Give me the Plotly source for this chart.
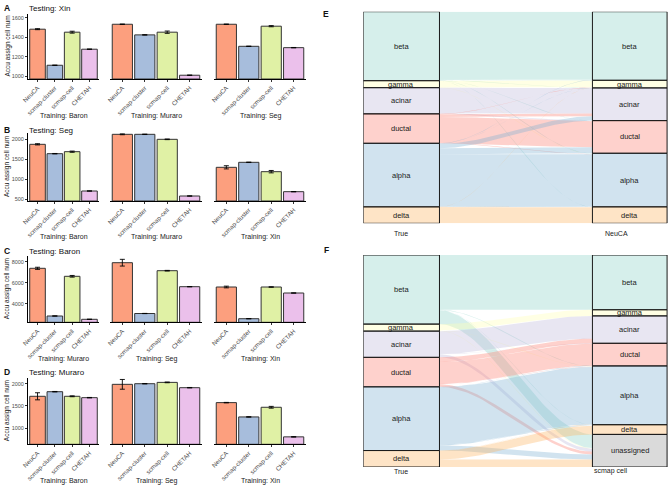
import numpy as np
import plotly.graph_objects as go

W, H = 668, 488
FONT = "Liberation Sans"

# ---------------- data ----------------
methods = ["NeuCA", "scmap-cluster", "scmap-cell", "CHETAH"]
bar_colors = ["#FC9F7E", "#A7BDDC", "#E0F1A5", "#EBC0EB"]

testing = ["Xin", "Seg", "Baron", "Muraro"]
training = [["Baron", "Muraro", "Seg"],
            ["Baron", "Muraro", "Xin"],
            ["Muraro", "Seg", "Xin"],
            ["Baron", "Seg", "Xin"]]

values_A = [[1484, 1111, 1453, 1277], [1535, 1425, 1453, 1008], [1535, 1307, 1515, 1293]]
errors_A = [[5, 2, 10, 2], [2, 2, 12, 2], [2, 2, 6, 2]]
values_B = [[1867, 1633, 1683, 700], [2117, 2117, 1992, 575], [1292, 1417, 1183, 683]]
errors_B = [[15, 5, 15, 3], [10, 5, 8, 3], [40, 5, 30, 3]]
values_C = [[7371, 2829, 6610, 2514], [7905, 3067, 7143, 5620], [5590, 2571, 5590, 5019]]
errors_C = [[100, 10, 80, 10], [320, 10, 30, 10], [80, 10, 20, 10]]
values_D = [[1716, 1820, 1716, 1685], [1986, 2000, 2030, 1910], [1573, 1250, 1468, 800]]
errors_D = [[80, 5, 10, 5], [110, 5, 8, 5], [5, 5, 20, 5]]

row_values = [values_A, values_B, values_C, values_D]
row_errors = [errors_A, errors_B, errors_C, errors_D]
row_yrange = [[969, 1641], [450, 2150], [2229, 8543], [632, 2129]]
row_dtick = [200, 500, 2000, 500]

cell_types = ["beta", "gamma", "acinar", "ductal", "alpha", "delta"]
neuca_types = ["beta", "gamma", "acinar", "ductal", "alpha", "delta"]
scmap_types = ["beta", "gamma", "acinar", "ductal", "alpha", "delta", "unassigned"]
type_colors = {"beta": "#8DD3C7", "gamma": "#FFFFB3", "acinar": "#BEBADA",
               "ductal": "#FB8072", "alpha": "#80B1D3", "delta": "#FDB462",
               "unassigned": "#999999"}

# rows: True type, cols: predicted type
flows_E = [[2490, 10, 5, 5, 10, 5],
           [5, 240, 0, 0, 10, 0],
           [0, 8, 930, 20, 0, 0],
           [0, 12, 100, 950, 15, 0],
           [15, 5, 160, 220, 1920, 6],
           [0, 5, 0, 0, 6, 590]]
flows_F = [[2000, 0, 0, 0, 15, 10, 500],
           [0, 225, 0, 0, 10, 0, 20],
           [0, 0, 830, 15, 0, 0, 113],
           [0, 0, 170, 800, 10, 0, 97],
           [0, 0, 0, 12, 2100, 24, 190],
           [0, 0, 0, 0, 11, 320, 270]]

# ---------------- layout helpers ----------------
def fx(px):
    return px / W

def fy(py):
    return 1 - py / H

def rgba(hexc, a):
    hexc = hexc.lstrip("#")
    r, g, b = int(hexc[0:2], 16), int(hexc[2:4], 16), int(hexc[4:6], 16)
    return f"rgba({r},{g},{b},{a})"

TXT = "#1a1a1a"
row_px = [(14, 79), (133, 201), (256, 322.3), (378, 444.3)]
col_px = [(28, 99), (110, 202), (214, 306)]
title_py = [8, 130, 251, 372]
train_py = [116, 236.5, 359, 480.5]

fig = go.Figure()
layout = dict(template="none", width=W, height=H, margin=dict(l=0, r=0, t=0, b=0, pad=0),
              paper_bgcolor="white", plot_bgcolor="white", showlegend=False,
              font=dict(family=FONT, color=TXT))
annotations = []

for r in range(4):
    for c in range(3):
        k = r * 3 + c + 1
        xa = "x" if k == 1 else f"x{k}"
        ya = "y" if k == 1 else f"y{k}"
        base = row_yrange[r][0]
        fig.add_trace(go.Bar(
            x=methods, y=[v - base for v in row_values[r][c]], base=base,
            xaxis=xa, yaxis=ya, width=0.9,
            marker=dict(color=bar_colors, line=dict(color="#333333", width=1)),
            error_y=dict(type="data", array=row_errors[r][c], color="black",
                         thickness=0.9, width=2.5),
            hoverinfo="skip"))
        xkey = "xaxis" if k == 1 else f"xaxis{k}"
        ykey = "yaxis" if k == 1 else f"yaxis{k}"
        layout[xkey] = dict(domain=[fx(col_px[c][0]), fx(col_px[c][1])], anchor=ya,
                            range=[-0.55, 3.55], showline=True, linecolor="black",
                            linewidth=1, tickangle=-45, ticks="outside", ticklen=2,
                            tickcolor="#333", tickfont=dict(family=FONT, size=6.2, color="#4d4d4d"),
                            showgrid=False, zeroline=False, automargin=False, fixedrange=True)
        layout[ykey] = dict(domain=[fy(row_px[r][1]), fy(row_px[r][0])], anchor=xa,
                            range=row_yrange[r], showgrid=False, zeroline=False,
                            tickmode="linear", tick0=0, dtick=row_dtick[r],
                            tickformat="d", automargin=False, fixedrange=True)
        if c == 0:
            layout[ykey].update(showline=True, linecolor="black", linewidth=1,
                                ticks="outside", ticklen=2, tickcolor="#333",
                                tickfont=dict(family=FONT, size=5.5, color="#4d4d4d"))
        else:
            layout[ykey].update(showline=False, showticklabels=False, ticks="")
        annotations.append(dict(text=f"Training: {training[r][c]}", x=fx((col_px[c][0] + col_px[c][1]) / 2),
                                y=fy(train_py[r]), xref="paper", yref="paper", showarrow=False,
                                font=dict(size=7, color=TXT), xanchor="center", yanchor="middle"))
    annotations.append(dict(text=f"Testing: {testing[r]}", x=fx(27), y=fy(title_py[r]),
                            xref="paper", yref="paper", showarrow=False, xanchor="left",
                            yanchor="middle", font=dict(size=8, color="#111")))
    annotations.append(dict(text=f"<b>{'ABCD'[r]}</b>", x=fx(2), y=fy(title_py[r]),
                            xref="paper", yref="paper", showarrow=False, xanchor="left",
                            yanchor="middle", font=dict(size=8.5, color="#111")))
    annotations.append(dict(text="Accu assign cell num", x=fx(7), y=fy((row_px[r][0] + row_px[r][1]) / 2),
                            xref="paper", yref="paper", showarrow=False, textangle=-90,
                            xanchor="center", yanchor="middle", font=dict(size=6.5, color=TXT)))


def smooth(t):
    return 3 * t ** 2 - 2 * t ** 3


def alluvial(k, left_types, right_types, flows, top_py, bot_py, left_label, right_label, letter):
    xa, ya = f"x{k}", f"y{k}"
    flows = np.array(flows, dtype=float)
    total = flows.sum()
    layout[f"xaxis{k}"] = dict(domain=[fx(363.3), fx(668)], range=[0, 1], visible=False,
                               anchor=ya, fixedrange=True, automargin=False)
    layout[f"yaxis{k}"] = dict(domain=[fy(bot_py), fy(top_py)], range=[total, 0], visible=False,
                               anchor=xa, fixedrange=True, automargin=False)
    xl0, xl1, xr0, xr1 = 0.0, 0.25, 0.752, 0.997
    lt = flows.sum(axis=1)
    rt = flows.sum(axis=0)
    lstart = np.concatenate([[0], np.cumsum(lt)[:-1]])
    rstart = np.concatenate([[0], np.cumsum(rt)[:-1]])
    lpos = np.zeros_like(flows)
    rpos = np.zeros_like(flows)
    for i in range(flows.shape[0]):
        acc = lstart[i]
        for j in range(flows.shape[1]):
            lpos[i, j] = acc
            acc += flows[i, j]
    for j in range(flows.shape[1]):
        acc = rstart[j]
        for i in range(flows.shape[0]):
            rpos[i, j] = acc
            acc += flows[i, j]
    t = np.linspace(0, 1, 50)
    s = smooth(t)
    xs = xl1 + (xr0 - xl1) * t
    for i in range(flows.shape[0]):
        for j in range(flows.shape[1]):
            f = flows[i, j]
            if f <= 0:
                continue
            ytop = lpos[i, j] + (rpos[i, j] - lpos[i, j]) * s
            ybot = ytop + f
            fig.add_trace(go.Scatter(
                x=np.concatenate([xs, xs[::-1]]), y=np.concatenate([ytop, ybot[::-1]]),
                xaxis=xa, yaxis=ya, mode="lines", line=dict(width=0),
                fill="toself", fillcolor=rgba(type_colors[left_types[i]], 0.36),
                hoverinfo="skip"))
    for names, starts, tots, x0, x1 in [(left_types, lstart, lt, xl0, xl1),
                                         (right_types, rstart, rt, xr0, xr1)]:
        for n, st, tt in zip(names, starts, tots):
            fig.add_trace(go.Scatter(
                x=[x0, x1, x1, x0, x0], y=[st, st, st + tt, st + tt, st],
                xaxis=xa, yaxis=ya, mode="lines", line=dict(color="#1a1a1a", width=1),
                fill="toself", fillcolor=rgba(type_colors[n], 0.36), hoverinfo="skip"))
            annotations.append(dict(text=n, x=(x0 + x1) / 2, y=st + tt / 2, xref=xa, yref=ya,
                                    showarrow=False, xanchor="center", yanchor="middle",
                                    font=dict(size=7.5, color=TXT)))
    annotations.append(dict(text=left_label, x=fx(401.3), y=fy(bot_py + 10), xref="paper",
                            yref="paper", showarrow=False, font=dict(size=7, color=TXT)))
    annotations.append(dict(text=right_label, x=fx(630), y=fy(bot_py + 10), xref="paper",
                            yref="paper", showarrow=False, font=dict(size=7, color=TXT)))
    annotations.append(dict(text=f"<b>{letter}</b>", x=fx(326), y=fy(top_py - 4.5), xref="paper",
                            yref="paper", showarrow=False, font=dict(size=8.5, color="#111")))


alluvial(13, cell_types, neuca_types, flows_E, 11.7, 223.3, "True", "NeuCA", "E")
alluvial(14, cell_types, scmap_types, flows_F, 255, 467, "True", "scmap cell", "F")

layout["annotations"] = annotations
fig.update_layout(**layout)
fig.write_html("out.html", config={"displayModeBar": False, "staticPlot": True},
               post_script="document.body.style.margin='0px';document.body.style.overflow='hidden';")
